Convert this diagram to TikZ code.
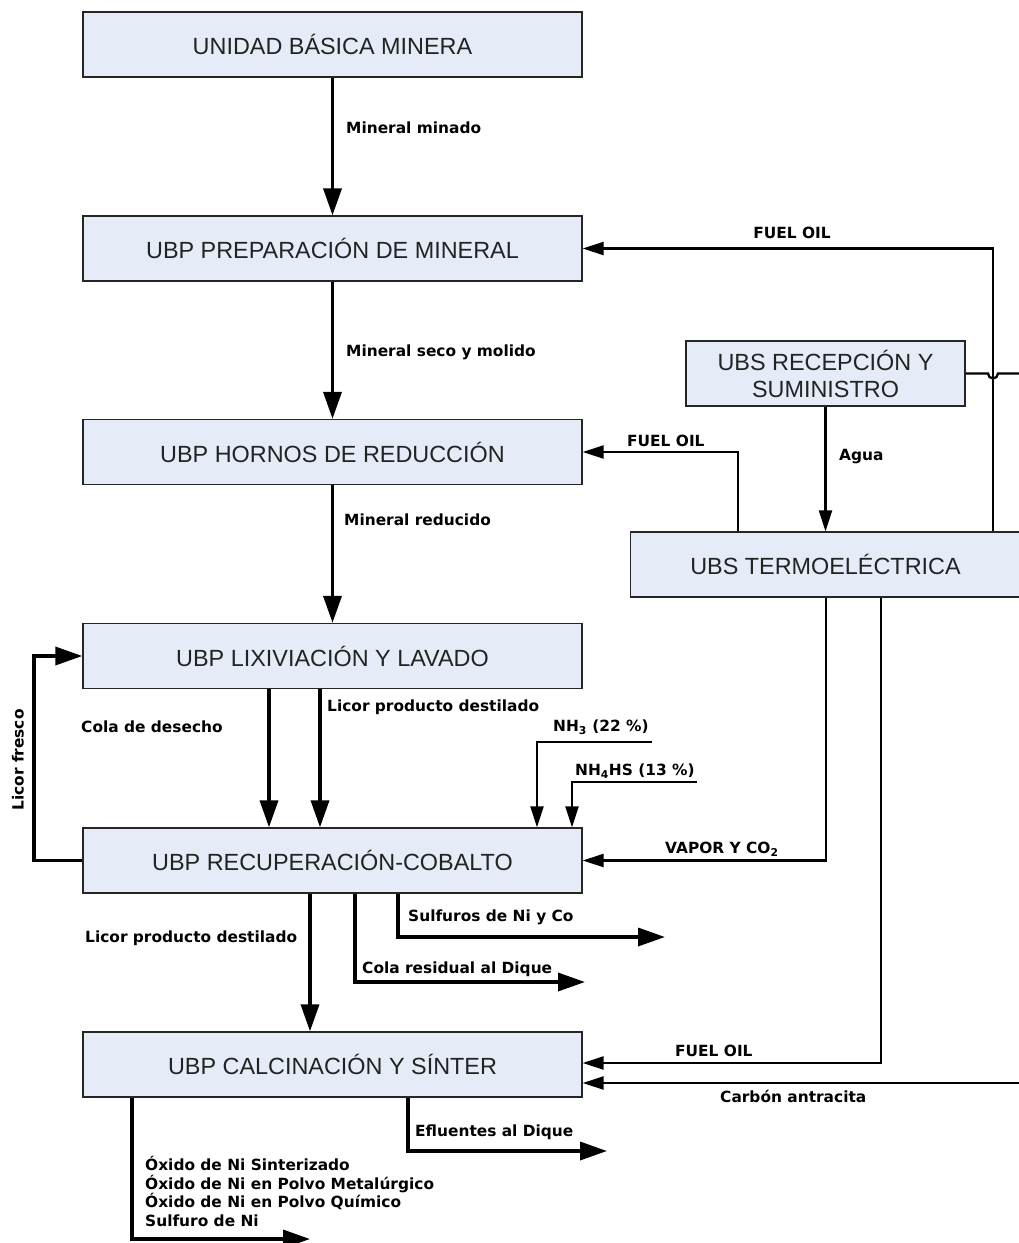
\documentclass[tikz,border=0pt]{standalone}
\usepackage{fontspec}
\setmainfont{Liberation Sans}
\newfontfamily\lblfont{DejaVu Sans}
\usetikzlibrary{arrows.meta}
\definecolor{boxfill}{RGB}{229,236,247}
\definecolor{boxtext}{RGB}{35,35,35}
\tikzset{
  unit/.style={draw=black!85, line width=1.3pt, fill=boxfill, text=boxtext, align=center,
    minimum width=499pt, minimum height=65pt, inner sep=0pt,
    font=\fontsize{23.4}{27}\selectfont},
  lbl/.style={font=\lblfont\bfseries\fontsize{15.4}{18.7}\selectfont, inner sep=0pt, anchor=west, align=left},
  thick flow/.style={line width=3.5pt, -{Triangle[length=27pt,width=18pt]}},
  thin flow/.style={line width=2.3pt, -{Triangle[length=21pt,width=13pt]}},
  thin line/.style={line width=2.3pt},
}
\begin{document}
\begin{tikzpicture}[x=1pt,y=-1pt]
\useasboundingbox (0,0) rectangle (1019,1243);
% main units
\node[unit] (b1) at (332.5,44.5) {UNIDAD BÁSICA MINERA};
\node[unit] (b2) at (332.5,248.5) {UBP PREPARACIÓN DE MINERAL};
\node[unit] (b3) at (332.5,452) {UBP HORNOS DE REDUCCIÓN};
\node[unit] (b4) at (332.5,656) {UBP LIXIVIACIÓN Y LAVADO};
\node[unit] (b5) at (332.5,860.5) {UBP RECUPERACIÓN-COBALTO};
\node[unit] (b6) at (332.5,1064.5) {UBP CALCINACIÓN Y SÍNTER};
\node[unit, minimum width=279pt] (rec) at (825.5,373.5) {UBS RECEPCIÓN Y\\SUMINISTRO};
\node[unit, minimum width=392pt] (ter) at (826.5,564.5) {};
\node[font=\fontsize{23.4}{27}\selectfont, text=boxtext] (tert) at (825.5,564.5) {UBS TERMOELÉCTRICA};

% main flow
\draw[thick flow] (b1) -- (b2);
\node[lbl] (l1) at (346,128) {Mineral minado};
\draw[thick flow] (b2) -- (b3);
\node[lbl] (l2) at (346,352) {Mineral seco y molido};
\draw[thick flow] (b3) -- (b4);
\node[lbl] (l3) at (344,520) {Mineral reducido};

% fuel oil to preparacion
\draw[thin flow] (ter.north -| 993,0) |- (b2.east);
\node[lbl, anchor=center] (l4) at (792,233) {FUEL OIL};
% fuel oil to hornos
\draw[thin flow] (ter.north -| 738,0) |- (b3.east);
\node[lbl] (l5) at (627,441) {FUEL OIL};
% agua
\draw[thin flow] (rec.south) -- (ter.north -| rec.south);
\node[lbl] (l6) at (839,457) {Agua};

% recepcion to carbon line with jump
\draw[thin line] (rec.east) -- (988,373.5) arc[start angle=180,end angle=0,radius=5] -- (1025,373.5) -- (1025,1083);
\draw[thin flow] (1025,1083) -- ([yshift=-18.5pt]b6.east);
\node[lbl] (l7) at (720,1096) {Carbón antracita};

% lixiviacion -> recuperacion
\draw[thick flow] (b4.south -| 269,0) -- (b5.north -| 269,0);
\draw[thick flow] (b4.south -| 320,0) -- (b5.north -| 320,0);
\node[lbl] (l8) at (81,727) {Cola de desecho};
\node[lbl] (l9) at (327,707) {Licor producto destilado};

% licor fresco
\draw[thick flow] (b5.west) -- (34,860.5) -- (34,656) -- (b4.west);
\node[lbl, anchor=center, rotate=90] (l10) at (18,760) {Licor fresco};

% NH3 and NH4HS
\coordinate (nh3) at (652,742);
\coordinate (nh4) at (697,782);
\draw[thin flow] (nh3) -| (b5.north -| 537,0);
\draw[thin flow] (nh4) -| (b5.north -| 572,0);
\node[lbl] (l11) at (553,727) {NH\textsubscript{3} (22 \%)};
\node[lbl] (l12) at (575,771) {NH\textsubscript{4}HS (13 \%)};

% vapor
\draw[thin flow] (ter.south -| 826,0) |- (b5.east);
\node[lbl] (l13) at (665,849) {VAPOR Y CO\textsubscript{2}};

% fuel oil to calcinacion
\draw[thin flow] (ter.south -| 881,0) |- ([yshift=1.5pt]b6.east);
\node[lbl] (l14) at (675,1051) {FUEL OIL};

% recuperacion outputs
\draw[thick flow] (b5.south -| 310,0) -- (b6.north -| 310,0);
\node[lbl] (l15) at (85,938) {Licor producto destilado};
\coordinate (sulf) at (665,937);
\coordinate (cola) at (585,982);
\draw[thick flow] (b5.south -| 398,0) |- (sulf);
\node[lbl] (l16) at (408,917) {Sulfuros de Ni y Co};
\draw[thick flow] (b5.south -| 355,0) |- (cola);
\node[lbl] (l17) at (362,969) {Cola residual al Dique};

% calcinacion outputs
\coordinate (eflu) at (607,1151);
\coordinate (oxid) at (310,1239);
\draw[thick flow] (b6.south -| 408,0) |- (eflu);
\node[lbl] (l18) at (415,1132) {Efluentes al Dique};
\draw[thick flow] (b6.south -| 132,0) |- (oxid);
\node[lbl, anchor=north west] (l19) at (145,1156) {Óxido de Ni Sinterizado\\Óxido de Ni en Polvo Metalúrgico\\Óxido de Ni en Polvo Químico\\Sulfuro de Ni};
\end{tikzpicture}
\end{document}
